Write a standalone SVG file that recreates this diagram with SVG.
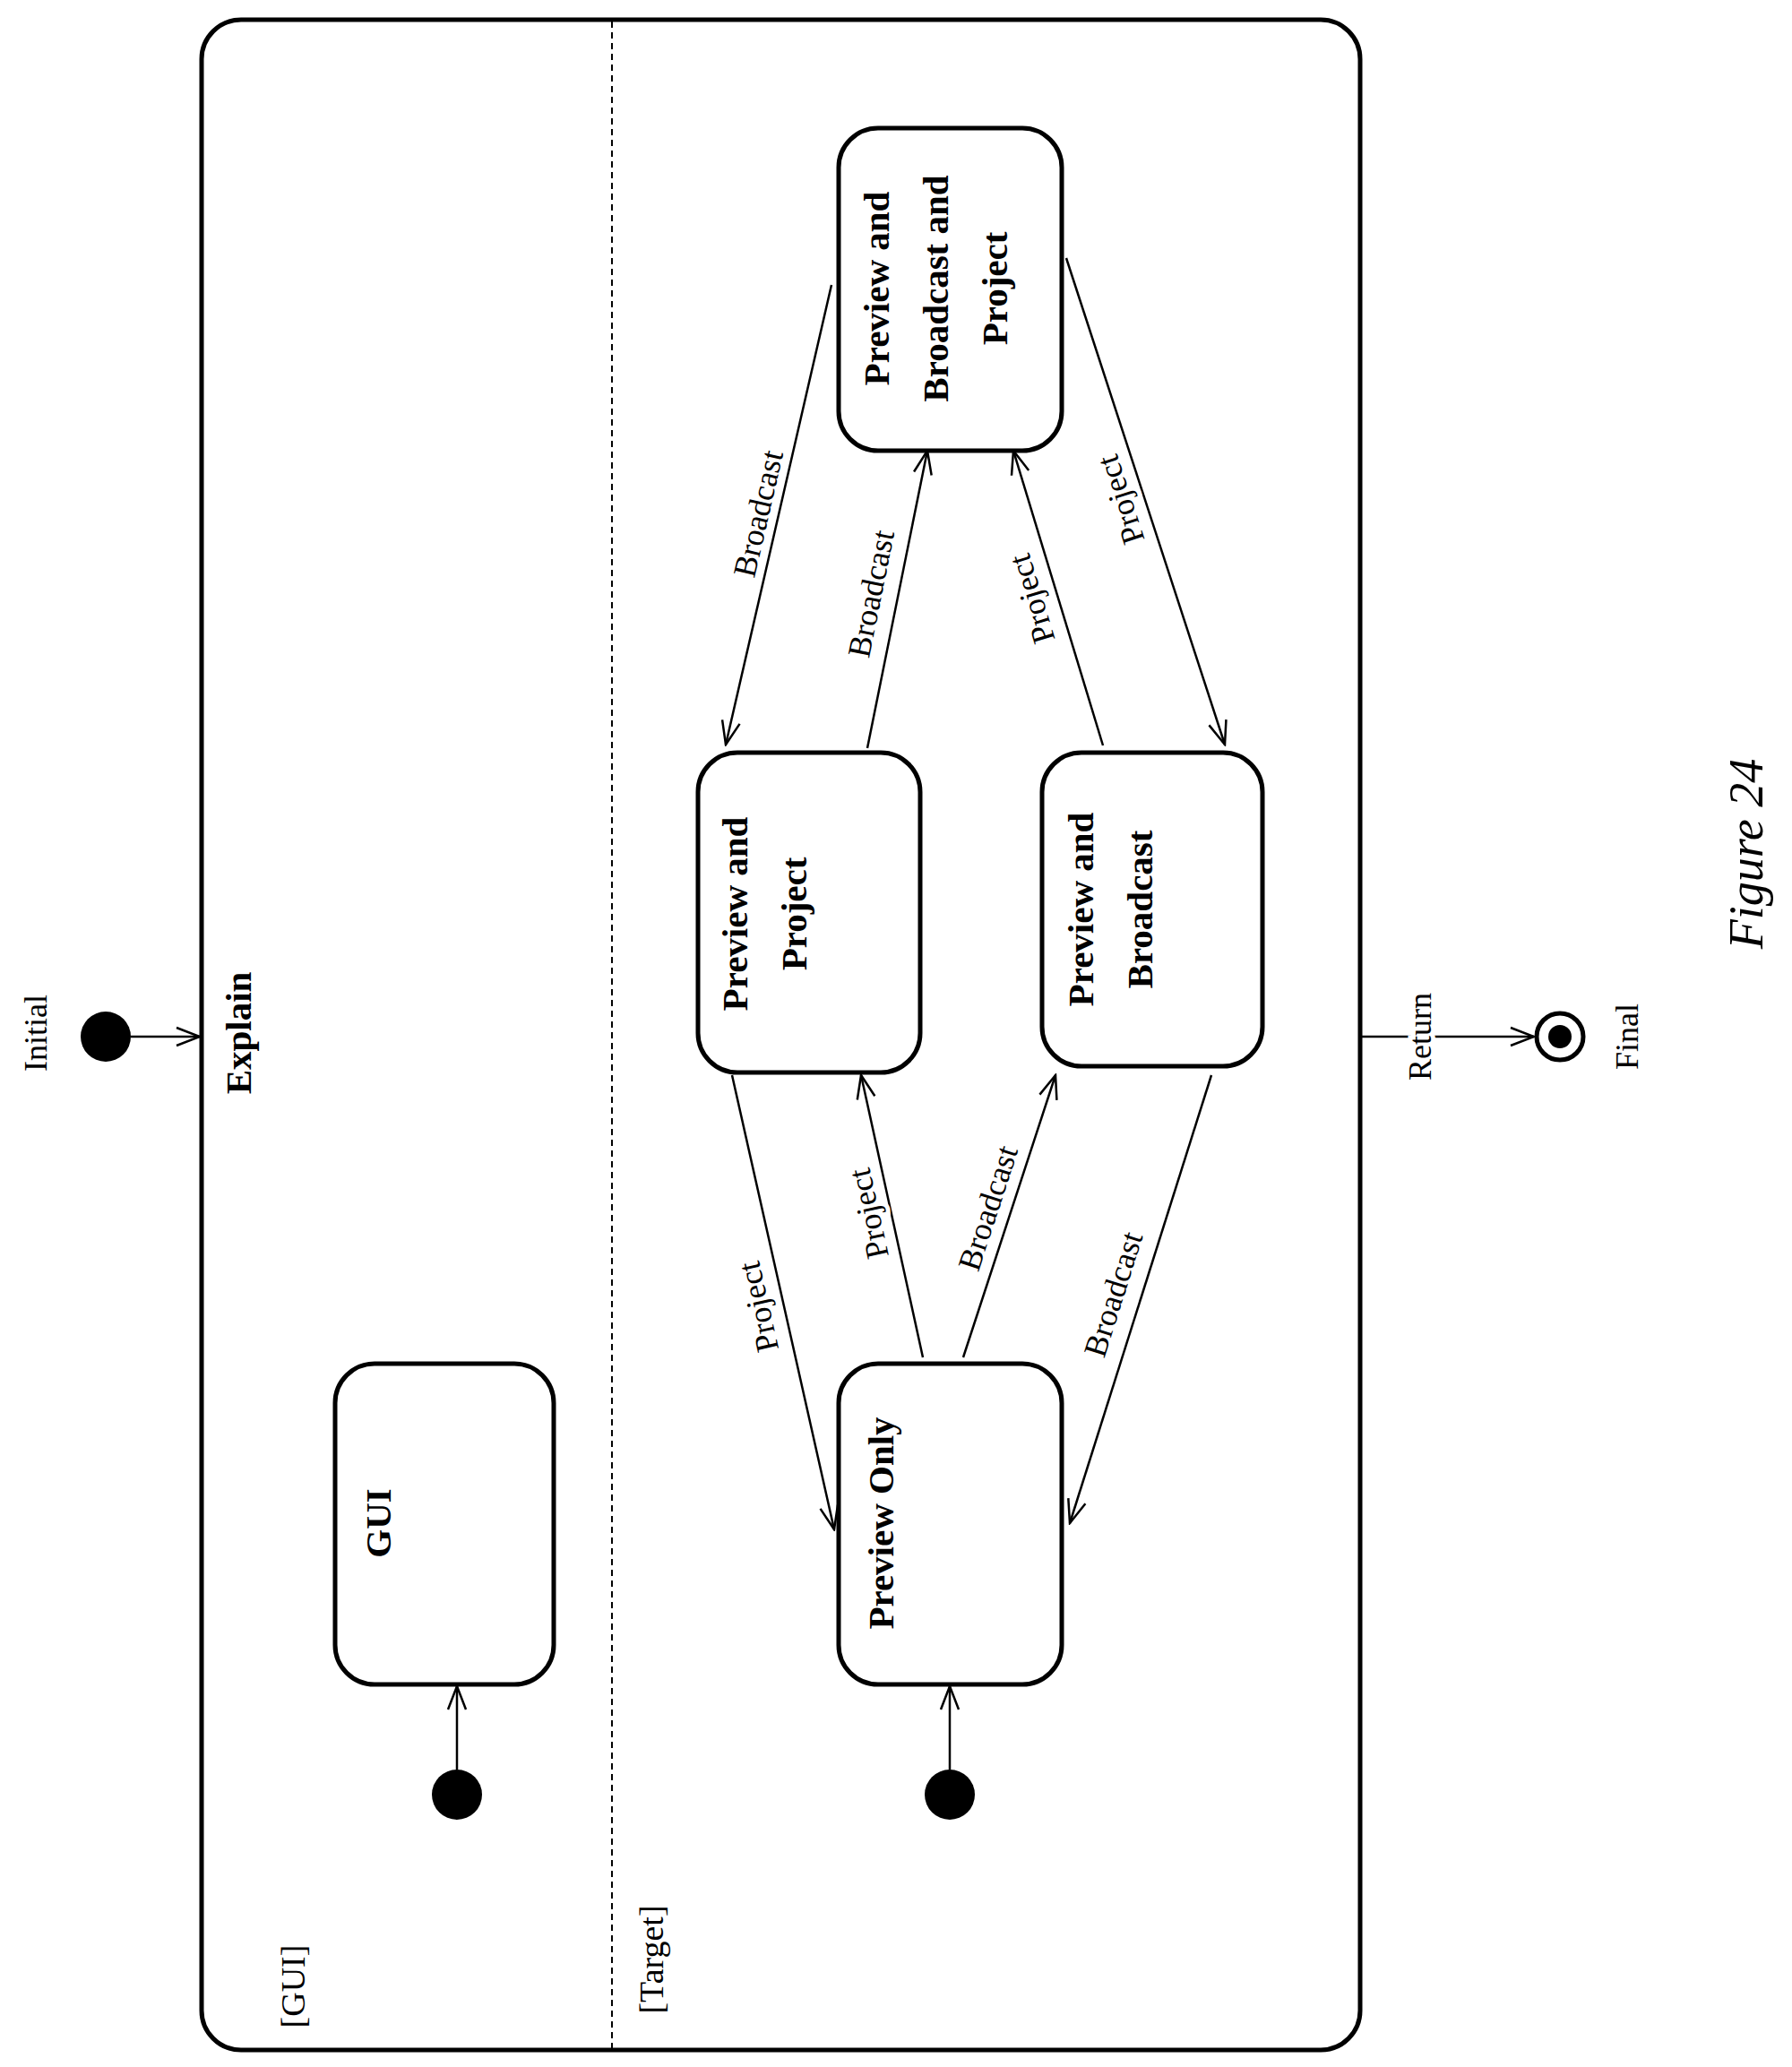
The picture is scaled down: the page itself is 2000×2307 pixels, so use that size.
<svg xmlns="http://www.w3.org/2000/svg" width="2000" height="2307" viewBox="0 0 2000 2307">
<style>
.n{fill:#fff;stroke:#000;stroke-width:5}
.t{font-family:"Liberation Serif",serif;font-weight:bold;font-size:41px;text-anchor:middle}
.l{font-family:"Liberation Serif",serif;font-size:36px;text-anchor:middle;paint-order:stroke;stroke:#fff;stroke-width:10px}
.e{stroke:#000;stroke-width:2.5;fill:none;marker-end:url(#a)}
.d{fill:#000}
</style>
<defs><marker id="a" markerWidth="30" markerHeight="24" refX="28" refY="12" orient="auto" markerUnits="userSpaceOnUse"><path d="M2,2 L28,12 L2,22" fill="none" stroke="#000" stroke-width="2.5"/></marker></defs>
<rect width="2000" height="2307" fill="#fff"/>
<g id="frame">
<rect x="225" y="22" width="1293" height="2266" rx="44" fill="none" stroke="#000" stroke-width="5"/>
<line x1="683" y1="24" x2="683" y2="2286" stroke="#000" stroke-width="2" stroke-dasharray="7,5"/>
<text class="t" transform="translate(280,1153) rotate(-90)">Explain</text>
<text class="l" style="font-size:38px" transform="translate(340,2217) rotate(-90)">[GUI]</text>
<text class="l" style="font-size:38px" transform="translate(740,2187) rotate(-90)">[Target]</text>
</g>
<g id="initial"><circle class="d" cx="118" cy="1157" r="28"/><text class="l" transform="translate(52,1153) rotate(-90)">Initial</text></g>
<g id="final"><circle cx="1741" cy="1157" r="26" fill="#fff" stroke="#000" stroke-width="5"/><circle class="d" cx="1741" cy="1157" r="13"/><text class="l" transform="translate(1828,1157) rotate(-90)">Final</text></g>
<g id="gui"><rect class="n" x="374" y="1522" width="244" height="358" rx="44"/><text class="t" transform="translate(436,1700) rotate(-90)">GUI</text></g>
<g id="gui-init"><circle class="d" cx="510" cy="2003" r="28"/></g>
<g id="po"><rect class="n" x="936" y="1522" width="249" height="358" rx="44"/><text class="t" transform="translate(997,1700) rotate(-90)">Preview Only</text></g>
<g id="po-init"><circle class="d" cx="1060" cy="2003" r="28"/></g>
<g id="pp"><rect class="n" x="779" y="840" width="248" height="357" rx="44"/><text class="t" transform="translate(834,1020) rotate(-90)">Preview and</text><text class="t" transform="translate(900,1020) rotate(-90)">Project</text></g>
<g id="pb"><rect class="n" x="1163" y="840" width="246" height="350" rx="44"/><text class="t" transform="translate(1220,1015) rotate(-90)">Preview and</text><text class="t" transform="translate(1286,1015) rotate(-90)">Broadcast</text></g>
<g id="pbp"><rect class="n" x="936" y="143" width="249" height="360" rx="44"/><text class="t" transform="translate(992,322) rotate(-90)">Preview and</text><text class="t" transform="translate(1058,322) rotate(-90)">Broadcast and</text><text class="t" transform="translate(1124,322) rotate(-90)">Project</text></g>
<g id="connectors">
<line class="e" x1="146" y1="1157" x2="223" y2="1157"/>
<line class="e" x1="1518" y1="1157" x2="1712" y2="1157"/>
<text class="l" transform="translate(1597,1157) rotate(-90)">Return</text>
<line class="e" x1="510" y1="1975" x2="510" y2="1882"/>
<line class="e" x1="1060" y1="1975" x2="1060" y2="1882"/>
<line class="e" x1="817" y1="1200" x2="931" y2="1707"/>
<text class="l" transform="translate(858,1456) rotate(-102.7)">Project</text>
<line class="e" x1="1030" y1="1515" x2="961" y2="1200"/>
<text class="l" transform="translate(981,1352) rotate(-102.4)">Project</text>
<line class="e" x1="1075" y1="1515" x2="1178" y2="1200"/>
<text class="l" transform="translate(1114,1352) rotate(-71.9)">Broadcast</text>
<line class="e" x1="1352" y1="1200" x2="1194" y2="1700"/>
<text class="l" transform="translate(1254,1448) rotate(-72.5)">Broadcast</text>
<line class="e" x1="928" y1="318" x2="810" y2="831"/>
<text class="l" transform="translate(858,576) rotate(-77)">Broadcast</text>
<line class="e" x1="968" y1="835" x2="1035" y2="503"/>
<text class="l" transform="translate(984,665) rotate(-78.6)">Broadcast</text>
<line class="e" x1="1231" y1="832" x2="1131" y2="503"/>
<text class="l" transform="translate(1163,665) rotate(-106.9)">Project</text>
<line class="e" x1="1190" y1="288" x2="1367" y2="831"/>
<text class="l" transform="translate(1262,554) rotate(-108)">Project</text>
</g>
<text transform="translate(1967,953) rotate(-90)" style="font-family:'Liberation Serif',serif;font-style:italic;font-size:54px;text-anchor:middle">Figure 24</text>
</svg>
